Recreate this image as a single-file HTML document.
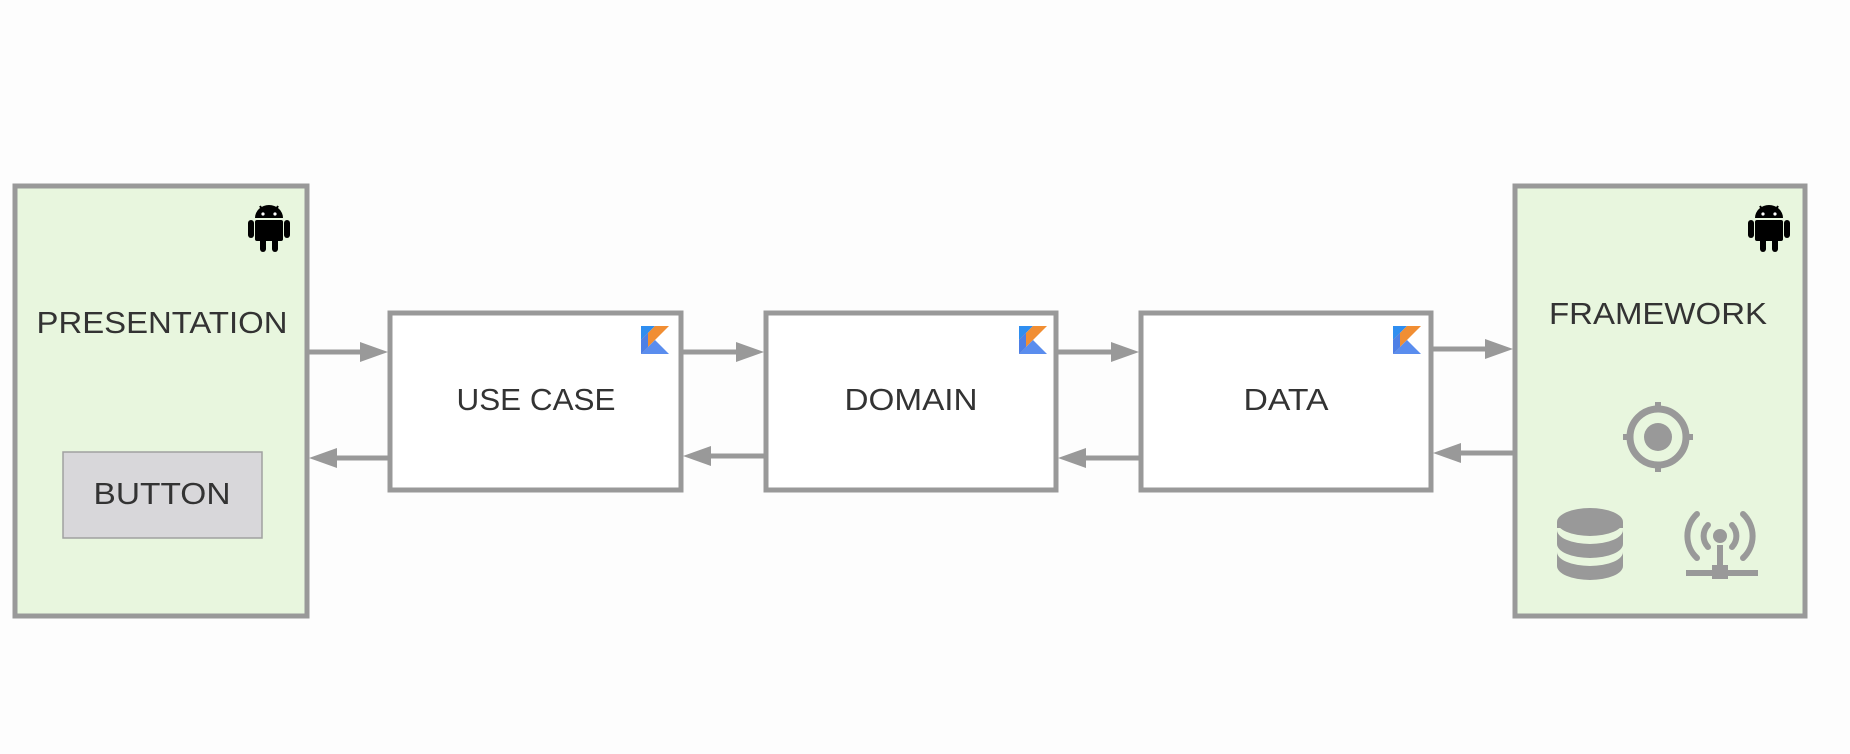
<!DOCTYPE html>
<html><head><meta charset="utf-8"><style>
html,body{margin:0;padding:0;background:#fdfdfd;}
svg{display:block;}
text{font-family:"Liberation Sans",sans-serif;fill:#333;font-size:31px;}
</style></head><body>
<svg width="1850" height="754" viewBox="0 0 1850 754" xmlns="http://www.w3.org/2000/svg">
<defs>
<marker id="ah" markerWidth="10" markerHeight="10" refX="9" refY="5" orient="auto" markerUnits="userSpaceOnUse" viewBox="0 0 10 10">
</marker>
<g id="android">
  <path d="M-14,-10 a14,13 0 0 1 28,0 z" fill="#000"/>
  <line x1="-9" y1="-22" x2="-6" y2="-17" stroke="#000" stroke-width="2"/>
  <line x1="9" y1="-22" x2="6" y2="-17" stroke="#000" stroke-width="2"/>
  <circle cx="-6" cy="-14" r="1.6" fill="#fff"/><circle cx="6" cy="-14" r="1.6" fill="#fff"/>
  <rect x="-14" y="-8" width="28" height="21" rx="2" fill="#000"/>
  <rect x="-21" y="-8" width="6" height="18" rx="3" fill="#000"/>
  <rect x="15" y="-8" width="6" height="18" rx="3" fill="#000"/>
  <rect x="-9" y="10" width="6" height="14" rx="3" fill="#000"/>
  <rect x="3" y="10" width="6" height="14" rx="3" fill="#000"/>
</g>
<g id="kotlin">
  <polygon points="0,0 14,0 0,14" fill="#2f8ef0"/>
  <polygon points="14,0 28,0 0,28 0,14" fill="#f18e33"/>
  <polygon points="0,28 14,14 28,28" fill="#5a8dee"/>
  <polygon points="0,14 7,7 7,21 0,28" fill="#4d7fe6"/>
</g>
</defs>

<!-- Presentation -->
<rect x="15" y="186" width="292" height="430" fill="#e8f6de" stroke="#999" stroke-width="5"/>
<use href="#android" x="269" y="228"/>
<text x="162" y="333" text-anchor="middle" textLength="251" lengthAdjust="spacingAndGlyphs">PRESENTATION</text>
<rect x="63" y="452" width="199" height="86" fill="#d8d7da" stroke="#a0a0a0" stroke-width="1.5"/>
<text x="162" y="504" text-anchor="middle" textLength="137" lengthAdjust="spacingAndGlyphs">BUTTON</text>

<!-- middle boxes -->
<rect x="390" y="313" width="291" height="177" fill="#fff" stroke="#999" stroke-width="5"/>
<text x="536" y="410" text-anchor="middle" textLength="159" lengthAdjust="spacingAndGlyphs">USE CASE</text>
<use href="#kotlin" x="641" y="326"/>

<rect x="766" y="313" width="290" height="177" fill="#fff" stroke="#999" stroke-width="5"/>
<text x="911" y="410" text-anchor="middle" textLength="133" lengthAdjust="spacingAndGlyphs">DOMAIN</text>
<use href="#kotlin" x="1019" y="326"/>

<rect x="1141" y="313" width="290" height="177" fill="#fff" stroke="#999" stroke-width="5"/>
<text x="1286" y="410" text-anchor="middle" textLength="85" lengthAdjust="spacingAndGlyphs">DATA</text>
<use href="#kotlin" x="1393" y="326"/>

<!-- Framework -->
<rect x="1515" y="186" width="290" height="430" fill="#e8f6de" stroke="#999" stroke-width="5"/>
<use href="#android" x="1769" y="228"/>
<text x="1658" y="324" text-anchor="middle" textLength="218" lengthAdjust="spacingAndGlyphs">FRAMEWORK</text>
<!-- target -->
<g fill="none" stroke="#999" stroke-width="7">
<circle cx="1658" cy="437" r="28"/>
</g>
<circle cx="1658" cy="437" r="14" fill="#999"/>
<g stroke="#999" stroke-width="6">
<line x1="1658" y1="402" x2="1658" y2="411"/><line x1="1658" y1="463" x2="1658" y2="472"/>
<line x1="1623" y1="437" x2="1632" y2="437"/><line x1="1684" y1="437" x2="1693" y2="437"/>
</g>
<!-- database -->
<g fill="#999">
<ellipse cx="1590" cy="522" rx="33" ry="14"/>
<path d="M1557,530 a33,14 0 0 0 66,0 v14 a33,14 0 0 1 -66,0 z"/>
<path d="M1557,552 a33,14 0 0 0 66,0 v14 a33,14 0 0 1 -66,0 z"/>
</g>
<rect x="1557" y="522" width="66" height="6" fill="#999"/>
<!-- antenna -->
<g fill="none" stroke="#999" stroke-width="6" stroke-linecap="round">
<path d="M1708,525 a16,16 0 0 0 0,22"/>
<path d="M1732,525 a16,16 0 0 1 0,22"/>
<path d="M1697,514 a30,30 0 0 0 0,44"/>
<path d="M1743,514 a30,30 0 0 1 0,44"/>
</g>
<circle cx="1720" cy="536" r="7" fill="#999"/>
<rect x="1717" y="545" width="6" height="25" fill="#999"/>
<rect x="1686" y="570" width="72" height="6" fill="#999"/>
<rect x="1712" y="565" width="16" height="14" fill="#999"/>

<!-- arrows -->
<g stroke="#999" stroke-width="5">
<line x1="309" y1="352" x2="365" y2="352"/>
<line x1="683" y1="352" x2="740" y2="352"/>
<line x1="1058" y1="352" x2="1115" y2="352"/>
<line x1="1433" y1="349" x2="1490" y2="349"/>
<line x1="388" y1="458" x2="332" y2="458"/>
<line x1="764" y1="456" x2="707" y2="456"/>
<line x1="1139" y1="458" x2="1082" y2="458"/>
<line x1="1513" y1="453" x2="1456" y2="453"/>
</g>
<g fill="#999">
<polygon points="388,352 360,342 360,362"/>
<polygon points="764,352 736,342 736,362"/>
<polygon points="1139,352 1111,342 1111,362"/>
<polygon points="1513,349 1485,339 1485,359"/>
<polygon points="309,458 337,448 337,468"/>
<polygon points="683,456 711,446 711,466"/>
<polygon points="1058,458 1086,448 1086,468"/>
<polygon points="1433,453 1461,443 1461,463"/>
</g>
</svg>
</body></html>
